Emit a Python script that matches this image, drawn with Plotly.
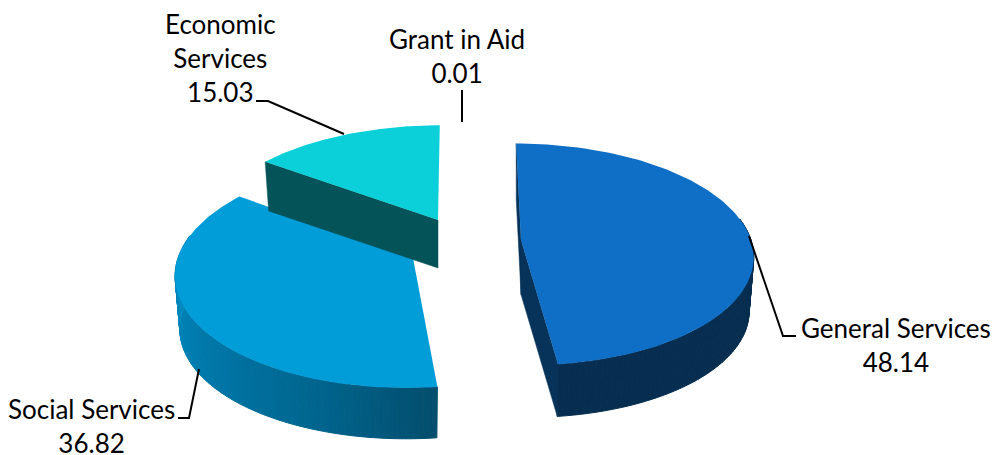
import numpy as np
import plotly.graph_objects as go

# Slice values, clockwise from 12 o'clock
labels = ["General Services", "Social Services", "Economic Services", "Grant in Aid"]
values = [48.14, 36.82, 15.03, 0.01]
label_text = ["General Services", "Social Services", "Economic<br>Services", "Grant in Aid"]

top_colors = ["#0f6fc6", "#009dd9", "#0bd0d9"]

# Plotly has no 3D pie, so each exploded slice gets its own projected ellipse (in pixels)
slice_shape = {
    "General Services": dict(cx=521, cy=240, rx=230, ry=109, shear=0.05, depth=54.6),
    "Social Services": dict(cx=413, cy=258, rx=235, ry=113, shear=-0.055, depth=53.5),
    "Economic Services": dict(cx=438, cy=220, rx=231, ry=107, shear=-0.02, depth=48),
}
perspective = 0.13

# colours along the outer wall, from the start angle to the end angle of the slice
wall_ramp = {
    "General Services": ["#07406f", "#072e50", "#072e50", "#072e50", "#072e50", "#072e50"],
    "Social Services": ["#044e6e", "#00668f", "#0075a6", "#0083b6", "#0a90c6", "#0a90c6"],
}
radial_wall = {"General Services": "#07335a", "Economic Services": "#045358"}

label_pos = {
    "General Services": (896, 345),
    "Social Services": (91, 426),
    "Economic Services": (220, 58),
    "Grant in Aid": (457, 56),
}
leaders = {
    "General Services": ([749, 783, 796], [236, 336, 336]),
    "Social Services": ([178, 189, 199], [418, 418, 369]),
    "Economic Services": ([256, 268, 344], [101, 101, 134]),
    "Grant in Aid": ([462, 462], [90, 122]),
}


def project(shape, theta, drop=0.0, shrink=1.0):
    u = np.sin(theta)
    v = np.cos(theta)
    s = 1 / (1 + perspective * v)
    y_off = -shape["ry"] * shrink * v * s
    x = shape["cx"] + shape["rx"] * shrink * u * s + shape["shear"] * y_off
    y = shape["cy"] + drop + y_off
    return x, y


def polygon(fig, xs, ys, color, line_width=0):
    fig.add_trace(go.Scatter(
        x=list(xs), y=list(ys), mode="lines", fill="toself", fillcolor=color,
        line=dict(color=color, width=line_width), hoverinfo="skip", showlegend=False,
    ))


def mix(colors, t):
    rgb = np.array([[int(c[i:i + 2], 16) for i in (1, 3, 5)] for c in colors], dtype=float)
    pos = t * (len(colors) - 1)
    i = min(int(pos), len(colors) - 2)
    c = rgb[i] + (rgb[i + 1] - rgb[i]) * (pos - i)
    return "rgb(%d,%d,%d)" % tuple(c)


fig = go.Figure()

# angles come from the values
edges = np.radians(np.cumsum([0] + values) * 3.6)

# draw order: social first because the economic wall sits on top of it
for idx in [0, 1, 2]:
    name = labels[idx]
    shape = slice_shape[name]
    start, end = edges[idx], edges[idx + 1]
    d = shape["depth"]
    apex = (shape["cx"], shape["cy"])
    apex_low = (shape["cx"], shape["cy"] + d)

    if name in radial_wall:
        for theta in [start, end]:
            # the economic slice only shows the wall on its left cut
            if name == "Economic Services" and theta == end:
                continue
            x1, y1 = project(shape, theta)
            x2, y2 = project(shape, theta, d, 0.98)
            polygon(fig, [apex[0], x1, x2, apex_low[0], apex[0]],
                    [apex[1], y1, y2, apex_low[1], apex[1]], radial_wall[name], 0.5)

    if name in wall_ramp:
        # only the part of the outer wall that faces the viewer
        a = np.linspace(start, end, 140)
        for k in range(len(a) - 1):
            if np.cos(a[k]) > 0.2:
                continue
            x1, y1 = project(shape, a[k])
            x2, y2 = project(shape, a[k + 1])
            x3, y3 = project(shape, a[k + 1], d, 0.98)
            x4, y4 = project(shape, a[k], d, 0.98)
            t = (a[k] - start) / (end - start)
            polygon(fig, [x1, x2, x3, x4, x1], [y1, y2, y3, y4, y1],
                    mix(wall_ramp[name], t), 1)

    # top face
    a = np.linspace(start, end, 120)
    xs, ys = project(shape, a)
    polygon(fig, [apex[0]] + list(xs) + [apex[0]], [apex[1]] + list(ys) + [apex[1]], top_colors[idx])

# leader lines
for name in labels:
    lx, ly = leaders[name]
    fig.add_trace(go.Scatter(x=lx, y=ly, mode="lines", line=dict(color="black", width=2),
                             hoverinfo="skip", showlegend=False))

# data labels
for name, text, val in zip(labels, label_text, values):
    px_x, px_y = label_pos[name]
    fig.add_annotation(x=px_x, y=px_y, xref="x", yref="y", text=f"{text}<br>{val:.2f}",
                       showarrow=False, xanchor="center", yanchor="middle",
                       font=dict(family="Lato", size=26, color="black"))

fig.update_layout(
    width=994, height=455, margin=dict(l=0, r=0, t=0, b=0),
    paper_bgcolor="white", plot_bgcolor="white", showlegend=False,
    xaxis=dict(range=[0, 994], visible=False, fixedrange=True),
    yaxis=dict(range=[455, 0], visible=False, fixedrange=True),
)

# the page has a default 8px body margin, drop it so the chart fills the window
fig.write_html("out.html", config={"displayModeBar": False},
               post_script="document.body.style.margin='0';document.body.style.overflow='hidden';")
